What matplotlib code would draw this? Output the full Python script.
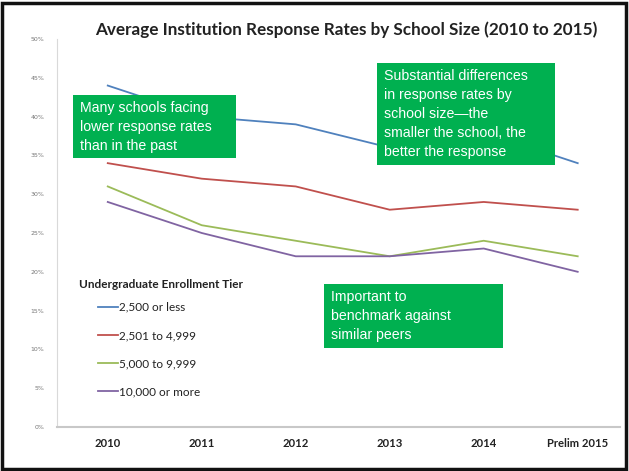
import matplotlib.pyplot as plt
from matplotlib.patches import Rectangle
from matplotlib.ticker import FuncFormatter

# data
years = ['2010', '2011', '2012', '2013', '2014', 'Prelim 2015']
tiers = ['2,500 or less', '2,501 to 4,999', '5,000 to 9,999', '10,000 or more']
small = [44, 40, 39, 36, 38, 34]
mid_small = [34, 32, 31, 28, 29, 28]
mid_large = [31, 26, 24, 22, 24, 22]
large = [29, 25, 22, 22, 23, 20]
colors = ['#4F81BD', '#C0504D', '#9BBB59', '#8064A2']

notes = [
    'Many schools facing\nlower response rates\nthan in the past',
    'Substantial differences\nin response rates by\nschool size\u2014the\nsmaller the school, the\nbetter the response',
    'Important to\nbenchmark against\nsimilar peers',
]

W, H = 629, 471
fig = plt.figure(figsize=(W / 100, H / 100), dpi=100)
ax = fig.add_axes([57 / W, 1 - 427 / H, (620 - 57) / W, (427 - 39) / H])

x = list(range(len(years)))
for vals, name, c in zip([small, mid_small, mid_large, large], tiers, colors):
    ax.plot(x, vals, color=c, lw=1.3, label=name)

ax.set_xlim(-0.54, 5.45)
ax.set_ylim(0, 50)
ax.set_xticks(x)
ax.set_xticklabels(years, fontsize=8.1, fontweight='bold', family='Lato', color='#222222')
ax.set_yticks(range(0, 51, 5))
ax.yaxis.set_major_formatter(FuncFormatter(lambda v, p: f'{v:.0f}%'))
ax.tick_params(axis='y', labelsize=4.5, labelcolor='#777777', length=0, pad=9)
ax.tick_params(axis='x', length=0, pad=8)
for s in ['top', 'right']:
    ax.spines[s].set_visible(False)
ax.spines['left'].set_color('#d9d9d9')
ax.spines['bottom'].set_color('#c8c8c8')
ax.spines['bottom'].set_linewidth(1.5)

fig.text(346 / W, 1 - 30 / H, 'Average Institution Response Rates by School Size (2010 to 2015)',
         ha='center', va='center', fontsize=12.3, fontweight='bold', family='Lato', color='#222222')

# legend
fig.text(79 / W, 1 - 284 / H, 'Undergraduate Enrollment Tier', ha='left', va='center',
         fontsize=8.5, fontweight='bold', family='Lato', color='#222222')
ax.legend(loc='upper left', bbox_to_anchor=(92 / W, 1 - 296 / H), bbox_transform=fig.transFigure,
          frameon=False, prop={'family': 'Lato', 'size': 8.5}, handlelength=1.7,
          handletextpad=0.1, labelspacing=1.45, borderpad=0, labelcolor='#222222')

# green call-out boxes
boxes = [(73, 95, 236, 158), (377, 63, 555, 165), (324, 284, 503, 348)]
for (x0, y0, x1, y1), t in zip(boxes, notes):
    fig.patches.append(Rectangle((x0 / W, 1 - y1 / H), (x1 - x0) / W, (y1 - y0) / H,
                                 transform=fig.transFigure, facecolor='#00B050',
                                 edgecolor='none', zorder=5))
    fig.text((x0 + 7) / W, 1 - (y0 + 6) / H, t, ha='left', va='top', color='white',
             fontsize=10.2, family='Liberation Sans', linespacing=1.45, zorder=6)

# outer frame
fig.patches.append(Rectangle((2 / W, 2 / H), (W - 5) / W, (H - 5) / H, transform=fig.transFigure,
                             facecolor='none', edgecolor='#111111', lw=2.5, zorder=10))

fig.savefig('out.png', dpi=100)
